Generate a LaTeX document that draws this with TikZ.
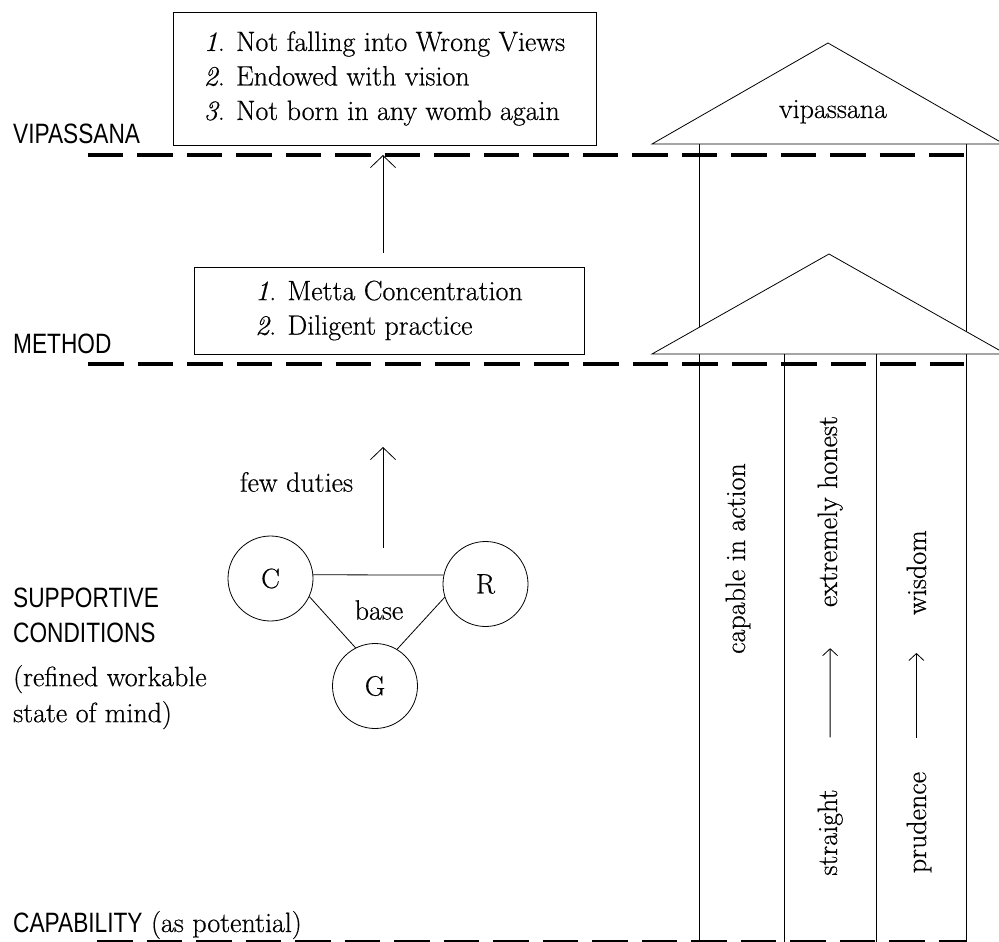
\documentclass[tikz,border=0pt]{standalone}
\usepackage{fontspec}
\setmainfont{Latin Modern Roman}[FakeBold=0.5]
\newfontfamily\capsfont{Liberation Sans}[FakeStretch=0.81]
\usetikzlibrary{positioning,arrows.meta}
\begin{document}
\begin{tikzpicture}[x=1pt,y=-1pt]
  \tikzset{every node/.style={font=\fontsize{28}{34.5}\selectfont,inner sep=0pt},
    levelrule/.style={line width=4.5pt,dash pattern=on 35.5pt off 14pt},
    thinline/.style={line width=0.8pt},
    level/.style={font=\capsfont\fontsize{28}{35}\selectfont,anchor=base west},
    listbox/.style={draw,thinline,align=left},
    ball/.style={circle,draw,thinline,minimum size=85pt},
    pillar/.style={rotate=90,anchor=base},
    uparrow/.style={thinline,-{Straight Barb[length=12pt,width=25pt]}},
    smallup/.style={thinline,-{Straight Barb[length=7pt,width=15pt]}}}
  \useasboundingbox (0,0) rectangle (999,942);

  % Ebenen
  \draw[levelrule] (87.5,155) -- (963.5,155);
  \draw[levelrule] (88,364) -- (964,364);
  \draw[levelrule] (97,942) -- (966,942);

  \node[level] (vip) at (13,143) {VIPASSANA};
  \node[level] (meth) at (13,353) {METHOD};
  \node[level,anchor=north west,align=left] (supp) at (13,588) {SUPPORTIVE\\CONDITIONS};
  \node[anchor=north west,align=left,font=\fontsize{28}{36}\selectfont] (refined) at (13,665)
    {(refined workable\\state of mind)};
  \node[anchor=base west] (capa) at (13,932) {{\capsfont CAPABILITY} (as potential)};

  % Kaesten
  \node[listbox,minimum width=423pt,minimum height=133pt] (views) at (384.5,78.5)
    {\textit{1}. Not falling into Wrong Views\\\textit{2}. Endowed with vision\\\textit{3}. Not born in any womb again};
  \node[listbox,minimum width=390pt,minimum height=87pt] (method) at (389,310.5)
    {\textit{1}. Metta Concentration\\\textit{2}. Diligent practice};
  \coordinate (viewsfoot) at (383,253);
  \coordinate (viewsin) at (383,155);
  \draw[uparrow] (viewsfoot) -- (viewsin);

  % C R G
  \node[ball] (C) at (270.5,578.5) {C};
  \node[ball] (R) at (485.5,584) {R};
  \node[ball] (G) at (375,686) {G};
  \draw[thinline] (C.5) -- (R.168);
  \draw[thinline] (C.-25) -- (G.117);
  \draw[thinline] (R.198) -- (G.59);
  \node (base) at (379,610) {base};

  \coordinate (dutyfoot) at (383,548);
  \coordinate (dutytip) at (383,447);
  \draw[uparrow] (dutyfoot) -- (dutytip);
  \node (duties) at (296.5,482) {few duties};

  % Haus
  \draw[thinline] (699,144) -- (699,942) (966,144) -- (966,942);
  \draw[thinline,fill=white] (652,144) -- (828,43) -- (1004,144) -- cycle;
  \node[anchor=base] (roof) at (833,118) {vipassana};
  \draw[thinline,fill=white] (652,354) -- (829,254) -- (1006,354) -- cycle;
  \draw[thinline] (784,354) -- (784,942) (876,354) -- (876,942);

  \node[pillar] (capable) at (745,558.5) {capable in action};
  \node[pillar] (honest) at (837,511.5) {extremely honest};
  \node[pillar] (straight) at (837,832.5) {straight};
  \node[pillar] (wisdom) at (926,572.5) {wisdom};
  \node[pillar] (prudence) at (926,822.5) {prudence};
  \draw[smallup,shorten <=52pt,shorten >=41pt] (straight.east) -- (honest.west);
  \draw[smallup,shorten <=34pt,shorten >=38pt] (prudence.east -| wisdom.west) -- (wisdom.west);
\end{tikzpicture}
\end{document}
